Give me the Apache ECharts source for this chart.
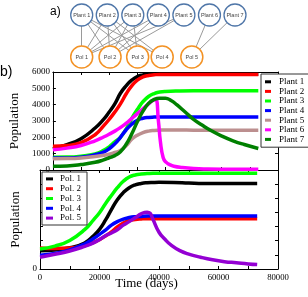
<!DOCTYPE html>
<html>
<head>
<meta charset="utf-8">
<script src="https://cdn.jsdelivr.net/npm/echarts@6/dist/echarts.min.js"></script>
<style>html,body{margin:0;padding:0;background:#fff;}#c{width:308px;height:297px;}</style>
</head>
<body>
<div id="c"></div>
<script>
// ---- network (panel a) ----
const plantNames = ['Plant 1','Plant 2','Plant 3','Plant 4','Plant 5','Plant 6','Plant 7'];
const polNames = ['Pol 1','Pol 2','Pol 3','Pol 4','Pol 5'];
const plantSlots = [0,1,2,3,4,5,6];
const polSlots = [0,1.11,2.19,3.15,4.31];
// [plant index, pollinator index]
const links = [[0,0],[0,1],[0,2],[0,3],[1,0],[1,1],[1,2],[1,3],[2,0],[2,1],[2,2],[3,0],[3,1],[4,0],[4,1],[5,4],[6,4]];

// ---- panel b data ----
const timeDays = [0,5000,10000,15000,18000,20000,22000,24000,26000,28000,30000,32000,34000,36000,38000,40000,45000,50000,55000,60000,65000,70000,73000];
const plant1 = [1300,1550,1920,2570,3100,3550,4050,4700,5150,5500,5720,5820,5870,5880,5870,5870,5860,5860,5860,5860,5860,5860,5860];
const plant2 = [1450,1500,1680,2160,2700,3100,3550,4050,4650,5150,5500,5700,5790,5830,5850,5850,5850,5850,5850,5850,5850,5850,5850];
const plant3 = [780,790,850,990,1200,1420,1720,2000,2500,3150,3700,4180,4500,4680,4770,4810,4840,4850,4850,4850,4850,4850,4850];
const plant4 = [735,740,780,930,1100,1300,1600,2000,2450,2800,3050,3170,3220,3240,3250,3250,3250,3250,3250,3250,3250,3250,3250];
const plant5 = [690,700,740,830,900,960,1070,1200,1480,1880,2130,2290,2380,2420,2440,2450,2450,2440,2440,2440,2440,2440,2440];
const plant6Time = [0,5000,10000,15000,18000,20000,22000,24000,26000,28000,30000,32000,34000,35500,36500,37500,38200,39200,40200,41500,43000,46000,50000,55000,60000,66000,73000];
const plant6 = [1240,1340,1500,1790,2020,2190,2380,2600,2850,3150,3450,3750,4050,4250,4320,3000,1750,750,480,330,230,150,90,60,50,50,50];
const plant7Time = [0,5000,10000,15000,18000,20000,22000,24000,26000,28000,30000,32000,34000,36000,38000,40000,42000,44000,47000,50000,53000,56000,60000,64000,68000,73000];
const plant7 = [225,245,330,470,620,750,880,1120,1560,2200,2950,3600,4080,4320,4400,4400,4250,4000,3550,3100,2750,2430,2080,1790,1560,1320];

const pol1 = [1.29,1.35,1.5,1.84,2.35,2.8,3.45,4.2,4.9,5.4,5.75,5.95,6.05,6.1,6.12,6.13,6.12,6.08,6.05,6.05,6.05,6.05,6.05];
const pol2 = [1.49,1.45,1.48,1.67,1.88,2.08,2.33,2.62,2.98,3.25,3.42,3.5,3.54,3.56,3.56,3.56,3.56,3.56,3.56,3.56,3.56,3.56,3.56];
const pol3 = [1.41,1.62,2.02,2.78,3.48,3.98,4.62,5.2,5.75,6.2,6.5,6.65,6.72,6.75,6.77,6.77,6.77,6.77,6.77,6.77,6.77,6.77,6.77];
const pol4 = [0.97,1.1,1.35,1.77,2.15,2.45,2.75,3.1,3.35,3.52,3.64,3.7,3.72,3.74,3.75,3.75,3.75,3.75,3.75,3.75,3.75,3.75,3.75];
const pol5Time = [0,5000,10000,15000,18000,20000,22000,24000,26000,28000,30000,32000,34000,36000,37000,38000,40000,42000,44000,47000,50000,54000,58000,62000,66000,70000,73000];
const pol5 = [0.83,1.04,1.27,1.6,1.85,2.08,2.35,2.55,2.78,3.1,3.35,3.62,3.9,4.02,3.95,3.5,2.6,2.1,1.7,1.3,1.05,0.83,0.65,0.52,0.44,0.36,0.31];

const xTicks = [0,20000,40000,60000,80000];
const yTicksTop = [0,1000,2000,3000,4000,5000,6000];

const plantSeries = [
  ['Plant 1', timeDays, plant1, '#000000'],
  ['Plant 2', timeDays, plant2, '#ff0000'],
  ['Plant 3', timeDays, plant3, '#00ff00'],
  ['Plant 4', timeDays, plant4, '#0000ff'],
  ['Plant 5', timeDays, plant5, '#bc8f8f'],
  ['Plant 6', plant6Time, plant6, '#ff00ff'],
  ['Plant 7', plant7Time, plant7, '#008000']
];
const polSeries = [
  ['Pol. 1', timeDays, pol1, '#000000'],
  ['Pol. 2', timeDays, pol2, '#ff0000'],
  ['Pol. 3', timeDays, pol3, '#00ff00'],
  ['Pol. 4', timeDays, pol4, '#0000ff'],
  ['Pol. 5', pol5Time, pol5, '#9400d3']
];

const SERIF = 'Liberation Serif';
const SANS = 'Liberation Sans';

function zip(t, v){ return t.map((x,i)=>[x, v[i]]); }

const chart = echarts.init(document.getElementById('c'), null, {renderer:'canvas'});

const nodes = plantNames.map((n,i)=>({
  name:n, value:[plantSlots[i],1],
  itemStyle:{color:'#fff', borderColor:'#4f76a8', borderWidth:1.3}
})).concat(polNames.map((n,i)=>({
  name:n, value:[polSlots[i],0],
  itemStyle:{color:'#fff', borderColor:'#f39224', borderWidth:1.5}
})));
const edges = links.map(l=>({source:l[0], target:plantNames.length + l[1]}));

function frameX(gi, pos, labels){
  return {
    gridIndex:gi, type:'value', min:0, max:80000, interval:10000, position:pos,
    axisLine:{show:true, onZero:false, lineStyle:{color:'#000', width:1}},
    axisTick:{show:true, inside:true, length:3, lineStyle:{color:'#000'}},
    axisLabel:{show:labels, margin:4, fontFamily:SERIF, fontSize:8.7, color:'#000',
      formatter:v=> xTicks.indexOf(v)>=0 ? String(v) : ''},
    splitLine:{show:false}
  };
}
function frameY(gi, pos, max, labels, formatter, name, nameGap){
  return {
    gridIndex:gi, type:'value', min:0, max:max, interval: max>100?1000:1, position:pos,
    axisLine:{show:true, onZero:false, lineStyle:{color:'#000', width:1}},
    axisTick:{show:true, inside:true, length:3, lineStyle:{color:'#000'}},
    axisLabel:{show:labels, margin:3, fontFamily:SERIF, fontSize:9, color:'#000', formatter:formatter},
    splitLine:{show:false},
    name:name||'', nameLocation:'middle', nameGap:nameGap||0,
    nameTextStyle:{fontFamily:SERIF, fontSize:13, color:'#000'}
  };
}

const series = [];
series.push({
  type:'graph', coordinateSystem:'cartesian2d', xAxisIndex:0, yAxisIndex:0,
  symbol:'circle', symbolSize:22, z:1,
  data:nodes, links:edges,
  lineStyle:{color:'#9a9a9a', width:1, opacity:1, curveness:0},
  label:{show:true, position:'inside', fontFamily:SANS, fontSize:5.5, color:'#444'},
  emphasis:{disabled:true}, silent:true
});
plantSeries.forEach(s=>{
  series.push({name:s[0], type:'line', xAxisIndex:1, yAxisIndex:1, data:zip(s[1],s[2]),
    showSymbol:false, symbol:'none', smooth:0.5, color:s[3], lineStyle:{width:3.5, color:s[3]}, itemStyle:{color:s[3]}});
});
polSeries.forEach(s=>{
  series.push({name:s[0], type:'line', xAxisIndex:3, yAxisIndex:3, data:zip(s[1],s[2]),
    showSymbol:false, symbol:'none', smooth:0.5, color:s[3], lineStyle:{width:3.5, color:s[3]}, itemStyle:{color:s[3]}});
});

const legendCommon = {
  orient:'vertical', icon:'rect', itemWidth:6, itemHeight:3, itemGap:0,
  backgroundColor:'#fff', borderColor:'#333', borderWidth:1, borderRadius:0,
  selectedMode:false
};

chart.setOption({
  animation:false,
  backgroundColor:'#fff',
  grid:[
    {left:81.7, width:153.3, top:15, height:42},
    {left:40, right:30, top:72, height:98},
    {left:40, right:30, top:170, height:99}
  ],
  xAxis:[
    {gridIndex:0, type:'value', min:0, max:6, show:false},
    frameX(1,'bottom',false),
    frameX(1,'top',false),
    frameX(2,'bottom',true),
    frameX(2,'top',false)
  ],
  yAxis:[
    {gridIndex:0, type:'value', min:0, max:1, show:false},
    frameY(1,'left',6000,true,v=> yTicksTop.indexOf(v)>=0 ? String(v) : '','Population',20),
    frameY(1,'right',6000,false),
    frameY(2,'left',7,true,v=> v===0?'0':'','Population',12),
    frameY(2,'right',7,false)
  ],
  legend:[
    Object.assign({}, legendCommon, {
      data:plantSeries.map(s=>s[0]), left:261, top:74, padding:[3,30,3,4],
      textStyle:{fontFamily:SERIF, fontSize:9, color:'#000', lineHeight:9.6, padding:[0,0,0,3]}
    }),
    Object.assign({}, legendCommon, {
      data:polSeries.map(s=>s[0]), left:42, top:172, itemWidth:7, padding:[2,6,2,4],
      textStyle:{fontFamily:SERIF, fontSize:9, color:'#000', lineHeight:9.8, padding:[0,0,0,2]}
    })
  ],
  graphic:[
    {type:'text', left:50, top:6, style:{text:'a)', fontFamily:SANS, fontSize:12, fill:'#000'}},
    {type:'text', left:0, top:65, style:{text:'b)', fontFamily:SANS, fontSize:14, fill:'#000'}},
    {type:'text', x:146.5, y:284, style:{text:'Time (days)', fontFamily:SERIF, fontSize:13, fill:'#000', align:'center', verticalAlign:'middle'}}
  ],
  series:series
});
</script>
</body>
</html>
